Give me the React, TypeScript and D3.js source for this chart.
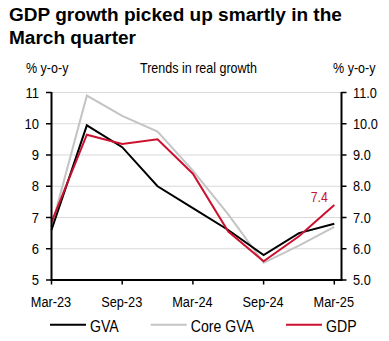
import React from "react";
import * as d3 from "d3";

const quarters = ["Mar-23", "Jun-23", "Sep-23", "Dec-23", "Mar-24", "Jun-24", "Sep-24", "Dec-24", "Mar-25"];
const xTickLabels = ["Mar-23", "Sep-23", "Mar-24", "Sep-24", "Mar-25"];
const yTicks = [5, 6, 7, 8, 9, 10, 11];
const gva = [6.6, 9.95, 9.25, 8.0, 7.3, 6.6, 5.8, 6.5, 6.8];
const coreGva = [6.7, 10.9, 10.25, 9.75, 8.5, 7.1, 5.55, 6.1, 6.7];
const gdp = [6.85, 9.65, 9.35, 9.5, 8.4, 6.55, 5.6, 6.4, 7.4];
const seriesNames = ["GVA", "Core GVA", "GDP"];
const seriesColors = ["#000000", "#c4c4c4", "#cc1130"];

const FONT = "'Liberation Sans', Arial, sans-serif";

function T(props: { x: number; y: number; s?: number; size: number; anchor?: string; fill?: string; weight?: string; children: React.ReactNode }) {
  const { x, y, s = 1, size, anchor = "start", fill = "#000", weight = "normal", children } = props;
  return (
    <text
      transform={`translate(${x},${y}) scale(${s},1)`}
      textAnchor={anchor}
      fontSize={size}
      fontFamily={FONT}
      fill={fill}
      fontWeight={weight}
    >
      {children}
    </text>
  );
}

export default function App() {
  const left = 51.5;
  const right = 341.5;
  const x = d3.scalePoint<string>().domain(quarters).range([left, 334.3]);
  const y = d3.scaleLinear().domain([5, 11]).range([280, 92.5]);
  const line = d3
    .line<number>()
    .x((_, i) => x(quarters[i]) as number)
    .y((d) => y(d));

  const series = [coreGva, gva, gdp];
  const seriesIdx = [1, 0, 2];

  const legendX = [50, 150.7, 286];
  const lastX = x(quarters[quarters.length - 1]) as number;

  return (
    <svg width={389} height={341} style={{ position: "absolute", left: 0, top: 0, background: "#fff" }}>
      <rect width={389} height={341} fill="#fff" />
      <T x={9} y={20.7} size={18.5} s={1.03} weight="bold">GDP growth picked up smartly in the</T>
      <T x={9} y={43.7} size={18.5} s={1.03} weight="bold">March quarter</T>

      <T x={26} y={72.7} size={13.9} s={0.9}>% y-o-y</T>
      <T x={198.5} y={72.7} size={13.9} s={0.9} anchor="middle">Trends in real growth</T>
      <T x={375.5} y={72.7} size={13.9} s={0.9} anchor="end">% y-o-y</T>

      {yTicks.filter((t) => t > 5).map((t) => (
        <line key={"g" + t} x1={left} x2={right} y1={y(t)} y2={y(t)} stroke="#d9d9d9" strokeWidth={1} />
      ))}

      {series.map((data, k) => (
        <path key={k} d={line(data) || ""} fill="none" stroke={seriesColors[seriesIdx[k]]} strokeWidth={2} strokeLinejoin="miter" />
      ))}

      {/* axes */}
      <line x1={left} x2={left} y1={y(11) - 0.5} y2={y(5) + 1} stroke="#000" strokeWidth={2} />
      <line x1={right} x2={right} y1={y(11) - 0.5} y2={y(5) + 1} stroke="#000" strokeWidth={2} />
      <line x1={left - 1} x2={right + 1} y1={y(5)} y2={y(5)} stroke="#000" strokeWidth={2} />
      {yTicks.map((t) => (
        <g key={"t" + t}>
          <line x1={left - 5.5} x2={left} y1={y(t)} y2={y(t)} stroke="#000" strokeWidth={1.5} />
          <line x1={right} x2={right + 5} y1={y(t)} y2={y(t)} stroke="#000" strokeWidth={1.5} />
          <T x={39} y={y(t) + 5.2} size={14.5} s={0.9} anchor="end">{String(t)}</T>
          <T x={353} y={y(t) + 5.2} size={14.5} s={0.88}>{t.toFixed(1)}</T>
        </g>
      ))}
      {xTickLabels.map((q) => (
        <g key={q}>
          <line x1={x(q) as number} x2={x(q) as number} y1={y(5)} y2={y(5) + 4.5} stroke="#000" strokeWidth={1.5} />
          <T x={(x(q) as number) - 0.5} y={307.3} size={14.5} s={0.88} anchor="middle">{q}</T>
        </g>
      ))}

      <T x={lastX - 15} y={201.7} size={15} s={0.82} anchor="middle" fill={seriesColors[2]}>{gdp[gdp.length - 1].toFixed(1)}</T>

      {seriesNames.map((n, i) => (
        <g key={n}>
          <line x1={legendX[i]} x2={legendX[i] + 36} y1={324.7} y2={324.7} stroke={seriesColors[i]} strokeWidth={2} />
          <T x={legendX[i] + 40} y={332.3} size={17} s={0.83}>{n}</T>
        </g>
      ))}
    </svg>
  );
}
